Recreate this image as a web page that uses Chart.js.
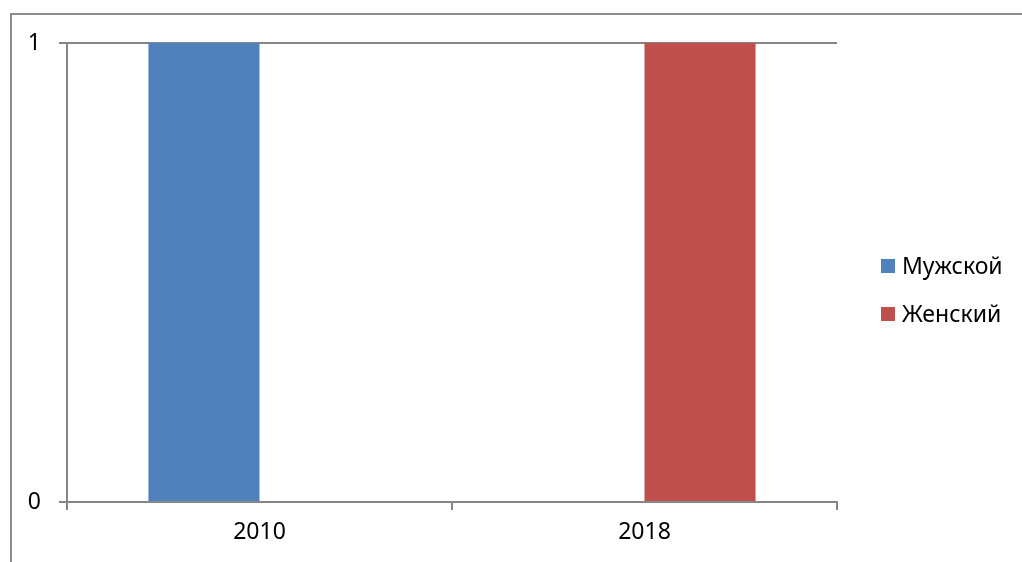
<!DOCTYPE html>
<html>
<head>
<meta charset="utf-8">
<script src="https://cdn.jsdelivr.net/npm/chart.js@4/dist/chart.umd.min.js"></script>
<style>
  html, body { margin: 0; padding: 0; background: #fff; }
  #wrap { width: 1022px; height: 562px; position: relative; }
</style>
</head>
<body>
<div id="wrap"><canvas id="c" width="1022" height="562"></canvas></div>
<script>
const categories = ['2010', '2018'];
const seriesNames = ['Мужской', 'Женский'];
const maleValues = [1, 0];
const femaleValues = [0, 1];
const yTicks = [0, 1];
const seriesColors = ['#4F81BD', '#C0504D'];

const FONT = '"Noto Sans", sans-serif';
const FONT_SIZE = 23;
const AXIS = '#868686';

// outer frame and legend drawn on the canvas
const framePlugin = {
  id: 'frame',
  beforeDraw(chart) {
    const ctx = chart.ctx;
    ctx.save();
    ctx.strokeStyle = '#8c8c8c';
    ctx.lineWidth = 2;
    ctx.beginPath();
    ctx.moveTo(11, 600);
    ctx.lineTo(11, 14);
    ctx.lineTo(1100, 14);
    ctx.stroke();
    ctx.restore();
  },
  afterDraw(chart) {
    const ctx = chart.ctx;
    ctx.save();
    ctx.font = FONT_SIZE + 'px ' + FONT;
    ctx.textBaseline = 'middle';
    chart.data.datasets.forEach((ds, i) => {
      const y = 266 + i * 48;
      ctx.fillStyle = ds.backgroundColor;
      ctx.fillRect(881, y - 7, 14, 14);
      ctx.fillStyle = '#000';
      ctx.fillText(ds.label, 902, y + 1);
    });
    ctx.restore();
  }
};

new Chart(document.getElementById('c'), {
  type: 'bar',
  data: {
    labels: categories,
    datasets: [
      { label: seriesNames[0], data: maleValues, backgroundColor: seriesColors[0] },
      { label: seriesNames[1], data: femaleValues, backgroundColor: seriesColors[1] }
    ]
  },
  options: {
    responsive: false,
    animation: false,
    layout: { padding: { left: 0, top: 43, right: 185, bottom: 0 } },
    datasets: { bar: { categoryPercentage: 0.577, barPercentage: 1, borderWidth: 0 } },
    plugins: { legend: { display: false }, tooltip: { enabled: false } },
    scales: {
      x: {
        offset: true,
        afterFit(s) { s.height = 60; },
        grid: { offset: true, drawOnChartArea: false, drawTicks: true, tickLength: 8, color: AXIS, lineWidth: 2 },
        border: { color: AXIS, width: 2 },
        ticks: { color: '#000', font: { family: FONT, size: FONT_SIZE }, padding: 9 }
      },
      y: {
        min: 0, max: 1,
        afterFit(s) { s.width = 67; },
        afterBuildTicks(s) { s.ticks = yTicks.map(v => ({ value: v })); },
        grid: { color: AXIS, lineWidth: 2, tickLength: 8 },
        border: { color: AXIS, width: 2 },
        ticks: { color: '#000', font: { family: FONT, size: FONT_SIZE }, padding: 18 }
      }
    }
  },
  plugins: [framePlugin]
});
</script>
</body>
</html>
